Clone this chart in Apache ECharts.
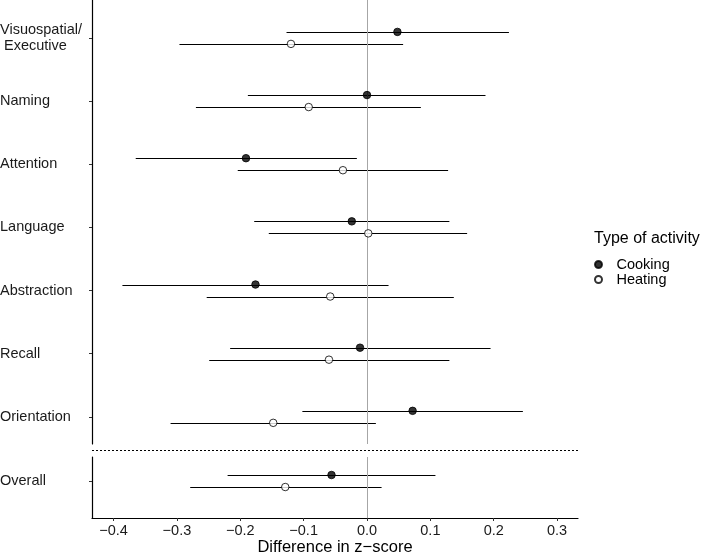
<!DOCTYPE html>
<html>
<head>
<meta charset="utf-8">
<script src="https://cdn.jsdelivr.net/npm/echarts@6/dist/echarts.min.js"></script>
<style>
  html, body { margin: 0; padding: 0; background: #fff; }
  #main { width: 709px; height: 559px; }
</style>
</head>
<body>
<div id="main"></div>
<script>
// 類別 (最後一個是 Overall, 在下方的小面板)
let categories = ['Visuospatial/\n Executive', 'Naming', 'Attention', 'Language',
    'Abstraction', 'Recall', 'Orientation', 'Overall'];

// Cooking
let cookEst = [0.048, 0.000, -0.191, -0.024, -0.176, -0.011, 0.072, -0.056];
let cookLo = [-0.127, -0.188, -0.365, -0.178, -0.386, -0.216, -0.102, -0.220];
let cookHi = [0.224, 0.187, -0.016, 0.130, 0.034, 0.195, 0.246, 0.108];

// Heating
let heatEst = [-0.120, -0.092, -0.038, 0.002, -0.058, -0.060, -0.148, -0.129];
let heatLo = [-0.296, -0.270, -0.204, -0.155, -0.253, -0.249, -0.310, -0.279];
let heatHi = [0.057, 0.085, 0.128, 0.158, 0.137, 0.130, 0.014, 0.023];

// x 軸刻度
let xTicks = [-0.4, -0.3, -0.2, -0.1, 0.0, 0.1, 0.2, 0.3];

let chart = echarts.init(document.getElementById("main"));

const FONT = 'Liberation Sans, Arial, Helvetica, sans-serif';
const SHIFT = 0.095;   // 上下錯開
const nTop = 7;

function fmtX(v) {
    let s = Math.abs(v).toFixed(1);
    return (v < -1e-9 ? '\u2212' : '') + s;
}

// 建立 error bar 與點的資料
function barData(lo, hi, from, to, shift) {
    let out = [];
    for (let i = from; i < to; i++) {
        out.push([lo[i], hi[i], (i - from + 1) + shift]);
    }
    return out;
}
function pointData(est, from, to, shift) {
    let out = [];
    for (let i = from; i < to; i++) {
        out.push([est[i], (i - from + 1) + shift]);
    }
    return out;
}

function renderBar(params, api) {
    let p1 = api.coord([api.value(0), api.value(2)]);
    let p2 = api.coord([api.value(1), api.value(2)]);
    let y = Math.round(p1[1]) + 0.5;
    return {
        type: 'line',
        shape: { x1: p1[0], y1: y, x2: p2[0], y2: y },
        style: { stroke: '#000', lineWidth: 1.1 }
    };
}

function zeroLine() {
    return {
        silent: true,
        symbol: 'none',
        label: { show: false },
        lineStyle: { color: '#a6a6a6', width: 1, type: 'solid' },
        data: [{ xAxis: 0 }]
    };
}

let xMin = -0.434, xMax = 0.333;

function xAxisOpt(idx, show) {
    return {
        type: 'value',
        gridIndex: idx,
        min: xMin,
        max: xMax,
        show: show,
        splitLine: { show: false },
        axisLine: { show: true, onZero: false, lineStyle: { color: '#000', width: 1.2 } },
        axisTick: { show: true, length: 3, customValues: xTicks, lineStyle: { color: '#333' } },
        axisLabel: {
            customValues: xTicks,
            formatter: fmtX,
            margin: 5,
            fontFamily: FONT,
            fontSize: 14.5,
            color: '#1a1a1a'
        },
        name: show ? 'Difference in z\u2212score' : '',
        nameLocation: 'middle',
        nameGap: 20,
        nameTextStyle: { fontFamily: FONT, fontSize: 16.5, color: '#000' }
    };
}

function yAxisOpt(idx, min, max, vals, offset) {
    return {
        type: 'value',
        gridIndex: idx,
        inverse: true,
        min: min,
        max: max,
        splitLine: { show: false },
        axisLine: { show: true, onZero: false, lineStyle: { color: '#000', width: 1.2 } },
        axisTick: { show: true, length: 3, customValues: vals, lineStyle: { color: '#333' } },
        axisLabel: {
            customValues: vals,
            formatter: (v) => categories[Math.round(v) - 1 + offset],
            align: 'left',
            margin: 92,
            lineHeight: 16,
            fontFamily: FONT,
            fontSize: 14.5,
            color: '#1a1a1a'
        }
    };
}

let option = {
    animation: false,
    backgroundColor: '#fff',
    textStyle: { fontFamily: FONT },
    title: {
        text: 'Type of activity',
        left: 594,
        top: 231,
        padding: 0,
        textStyle: { fontFamily: FONT, fontSize: 16, fontWeight: 'normal', color: '#000' }
    },
    legend: {
        data: ['Cooking', 'Heating'],
        orient: 'vertical',
        left: 594,
        top: 257,
        padding: 0,
        itemWidth: 14,
        itemHeight: 7,
        itemGap: 0,
        selectedMode: false,
        textStyle: { fontFamily: FONT, fontSize: 14.5, lineHeight: 15, color: '#000', padding: [0, 0, 0, 6] }
    },
    grid: [
        { left: 92, right: 131, top: 0, height: 444, outerBoundsMode: 'none' },
        { left: 92, right: 131, top: 457, height: 61, outerBoundsMode: 'none' }
    ],
    xAxis: [xAxisOpt(0, false), xAxisOpt(1, true)],
    yAxis: [
        yAxisOpt(0, 0.4, 7.43, [1, 2, 3, 4, 5, 6, 7], 0),
        yAxisOpt(1, 0.62, 1.585, [1], 7)
    ],
    graphic: [
        {
            type: 'line',
            shape: { x1: 92, y1: 450.5, x2: 578, y2: 450.5 },
            style: { stroke: '#000', lineWidth: 1, lineDash: [2, 2] },
            silent: true
        }
    ],
    series: [
        // 上面板
        {
            type: 'custom', xAxisIndex: 0, yAxisIndex: 0,
            renderItem: renderBar,
            encode: { x: [0, 1], y: 2 },
            data: barData(cookLo, cookHi, 0, nTop, -SHIFT),
            markLine: zeroLine(),
            z: 2
        },
        {
            type: 'custom', xAxisIndex: 0, yAxisIndex: 0,
            renderItem: renderBar,
            encode: { x: [0, 1], y: 2 },
            data: barData(heatLo, heatHi, 0, nTop, SHIFT),
            z: 2
        },
        {
            name: 'Cooking', type: 'scatter', xAxisIndex: 0, yAxisIndex: 0,
            symbol: 'circle', symbolSize: 7.5,
            itemStyle: { color: '#000', borderColor: '#000', borderWidth: 1 },
            data: pointData(cookEst, 0, nTop, -SHIFT),
            z: 5
        },
        {
            name: 'Heating', type: 'scatter', xAxisIndex: 0, yAxisIndex: 0,
            symbol: 'circle', symbolSize: 7.5,
            itemStyle: { color: '#fff', borderColor: '#000', borderWidth: 1 },
            data: pointData(heatEst, 0, nTop, SHIFT),
            z: 5
        },
        // 下面板 (Overall)
        {
            type: 'custom', xAxisIndex: 1, yAxisIndex: 1,
            renderItem: renderBar,
            encode: { x: [0, 1], y: 2 },
            data: barData(cookLo, cookHi, nTop, categories.length, -SHIFT),
            markLine: zeroLine(),
            z: 2
        },
        {
            type: 'custom', xAxisIndex: 1, yAxisIndex: 1,
            renderItem: renderBar,
            encode: { x: [0, 1], y: 2 },
            data: barData(heatLo, heatHi, nTop, categories.length, SHIFT),
            z: 2
        },
        {
            name: 'Cooking', type: 'scatter', xAxisIndex: 1, yAxisIndex: 1,
            symbol: 'circle', symbolSize: 7.5,
            itemStyle: { color: '#000', borderColor: '#000', borderWidth: 1 },
            data: pointData(cookEst, nTop, categories.length, -SHIFT),
            z: 5
        },
        {
            name: 'Heating', type: 'scatter', xAxisIndex: 1, yAxisIndex: 1,
            symbol: 'circle', symbolSize: 7.5,
            itemStyle: { color: '#fff', borderColor: '#000', borderWidth: 1 },
            data: pointData(heatEst, nTop, categories.length, SHIFT),
            z: 5
        }
    ]
};

chart.setOption(option);
</script>
</body>
</html>
